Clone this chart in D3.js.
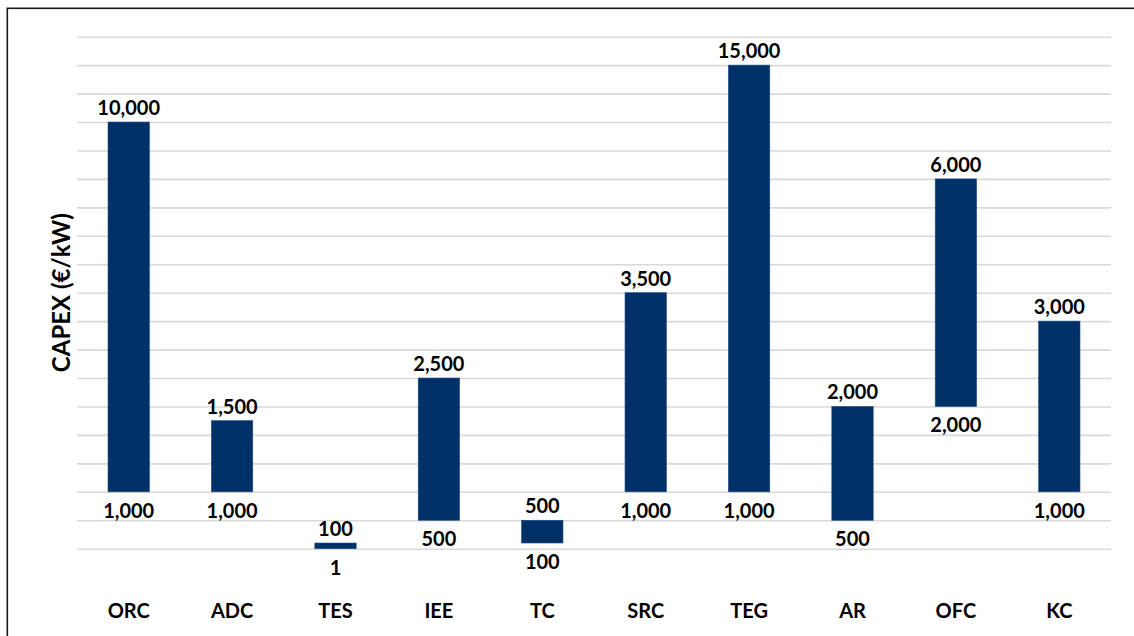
<!DOCTYPE html>
<html>
<head>
<meta charset="utf-8">
<script src="https://cdn.jsdelivr.net/npm/d3@7"></script>
<style>
  body { margin: 0; background: #fff; }
  svg { display: block; }
  text { font-family: Lato, "Open Sans", sans-serif; font-weight: 700; fill: #000; }
</style>
</head>
<body>
<svg id="chart" width="1134" height="636"></svg>
<script>
// CAPEX ranges per technology (€/kW): lower and upper bound of each range
const categories = ["ORC", "ADC", "TES", "IEE", "TC", "SRC", "TEG", "AR", "OFC", "KC"];
const capexLow  = [1000, 1000, 1, 500, 100, 1000, 1000, 500, 2000, 1000];
const capexHigh = [10000, 1500, 100, 2500, 500, 3500, 15000, 2000, 6000, 3000];
const axisTitle = "CAPEX (€/kW)";

// Compressed value axis: each value break is placed on a gridline step,
// so the small ranges (TES, TC) stay readable next to the large ones.
const scaleBreaks = [1, 100, 500, 1000, 1500, 2000, 2500, 3000, 3500, 6000, 10000, 15000];
const scaleSteps  = [0, 0.2, 1, 2, 4.5, 5, 6, 8, 9, 13, 15, 17];
const gridSteps = 18;

const svg = d3.select("#chart");
const plot = { left: 77, right: 1111, top: 36.7, bottom: 548.7 };

// outer frame
svg.append("rect")
  .attr("x", 7.3).attr("y", 8.3)
  .attr("width", 1160).attr("height", 660)
  .attr("fill", "none")
  .attr("stroke", "#1a1a1a")
  .attr("stroke-width", 1.6);

const yGrid = d3.scaleLinear().domain([0, gridSteps]).range([plot.bottom, plot.top]);
const y = d3.scaleLinear()
  .domain(scaleBreaks)
  .range(scaleSteps.map(s => yGrid(s)));

const x = d3.scaleBand()
  .domain(categories)
  .range([plot.left, plot.right])
  .paddingInner(0.6)
  .paddingOuter(0.3);

// horizontal gridlines
const grid = svg.append("g")
  .attr("transform", `translate(${plot.left},0)`)
  .call(d3.axisLeft(yGrid).ticks(gridSteps).tickSize(-(plot.right - plot.left)).tickFormat(""));
grid.select(".domain").remove();
grid.selectAll(".tick line").attr("stroke", "#d9d9d9").attr("stroke-width", 1.6);

const rows = categories.map((c, i) => ({ cat: c, low: capexLow[i], high: capexHigh[i] }));
const fmt = d3.format(",");

// floating range bars
svg.append("g").selectAll("rect")
  .data(rows)
  .join("rect")
  .attr("x", d => x(d.cat))
  .attr("width", x.bandwidth())
  .attr("y", d => y(d.high))
  .attr("height", d => y(d.low) - y(d.high))
  .attr("fill", "#003068")
  .attr("stroke", "#1d4a86")
  .attr("stroke-width", 0.6);

// upper bound labels
svg.append("g").selectAll("text")
  .data(rows)
  .join("text")
  .attr("x", d => x(d.cat) + x.bandwidth() / 2)
  .attr("y", d => y(d.high) - 7)
  .attr("text-anchor", "middle")
  .attr("font-size", 20)
  .text(d => fmt(d.high));

// lower bound labels
svg.append("g").selectAll("text")
  .data(rows)
  .join("text")
  .attr("x", d => x(d.cat) + x.bandwidth() / 2)
  .attr("y", d => y(d.low) + 26)
  .attr("text-anchor", "middle")
  .attr("font-size", 20)
  .text(d => fmt(d.low));

// category axis
const xAxis = svg.append("g")
  .attr("transform", `translate(0,${plot.bottom})`)
  .call(d3.axisBottom(x).tickSize(0).tickPadding(55));
xAxis.select(".domain").remove();
xAxis.selectAll("text")
  .attr("font-size", 20)
  .attr("font-family", "Lato, 'Open Sans', sans-serif")
  .attr("font-weight", 700)
  .attr("fill", "#000");

// y-axis title
svg.append("text")
  .attr("transform", `translate(60,${(plot.top + plot.bottom) / 2}) rotate(-90)`)
  .attr("text-anchor", "middle")
  .attr("dominant-baseline", "central")
  .attr("font-size", 24)
  .text(axisTitle);
</script>
</body>
</html>
